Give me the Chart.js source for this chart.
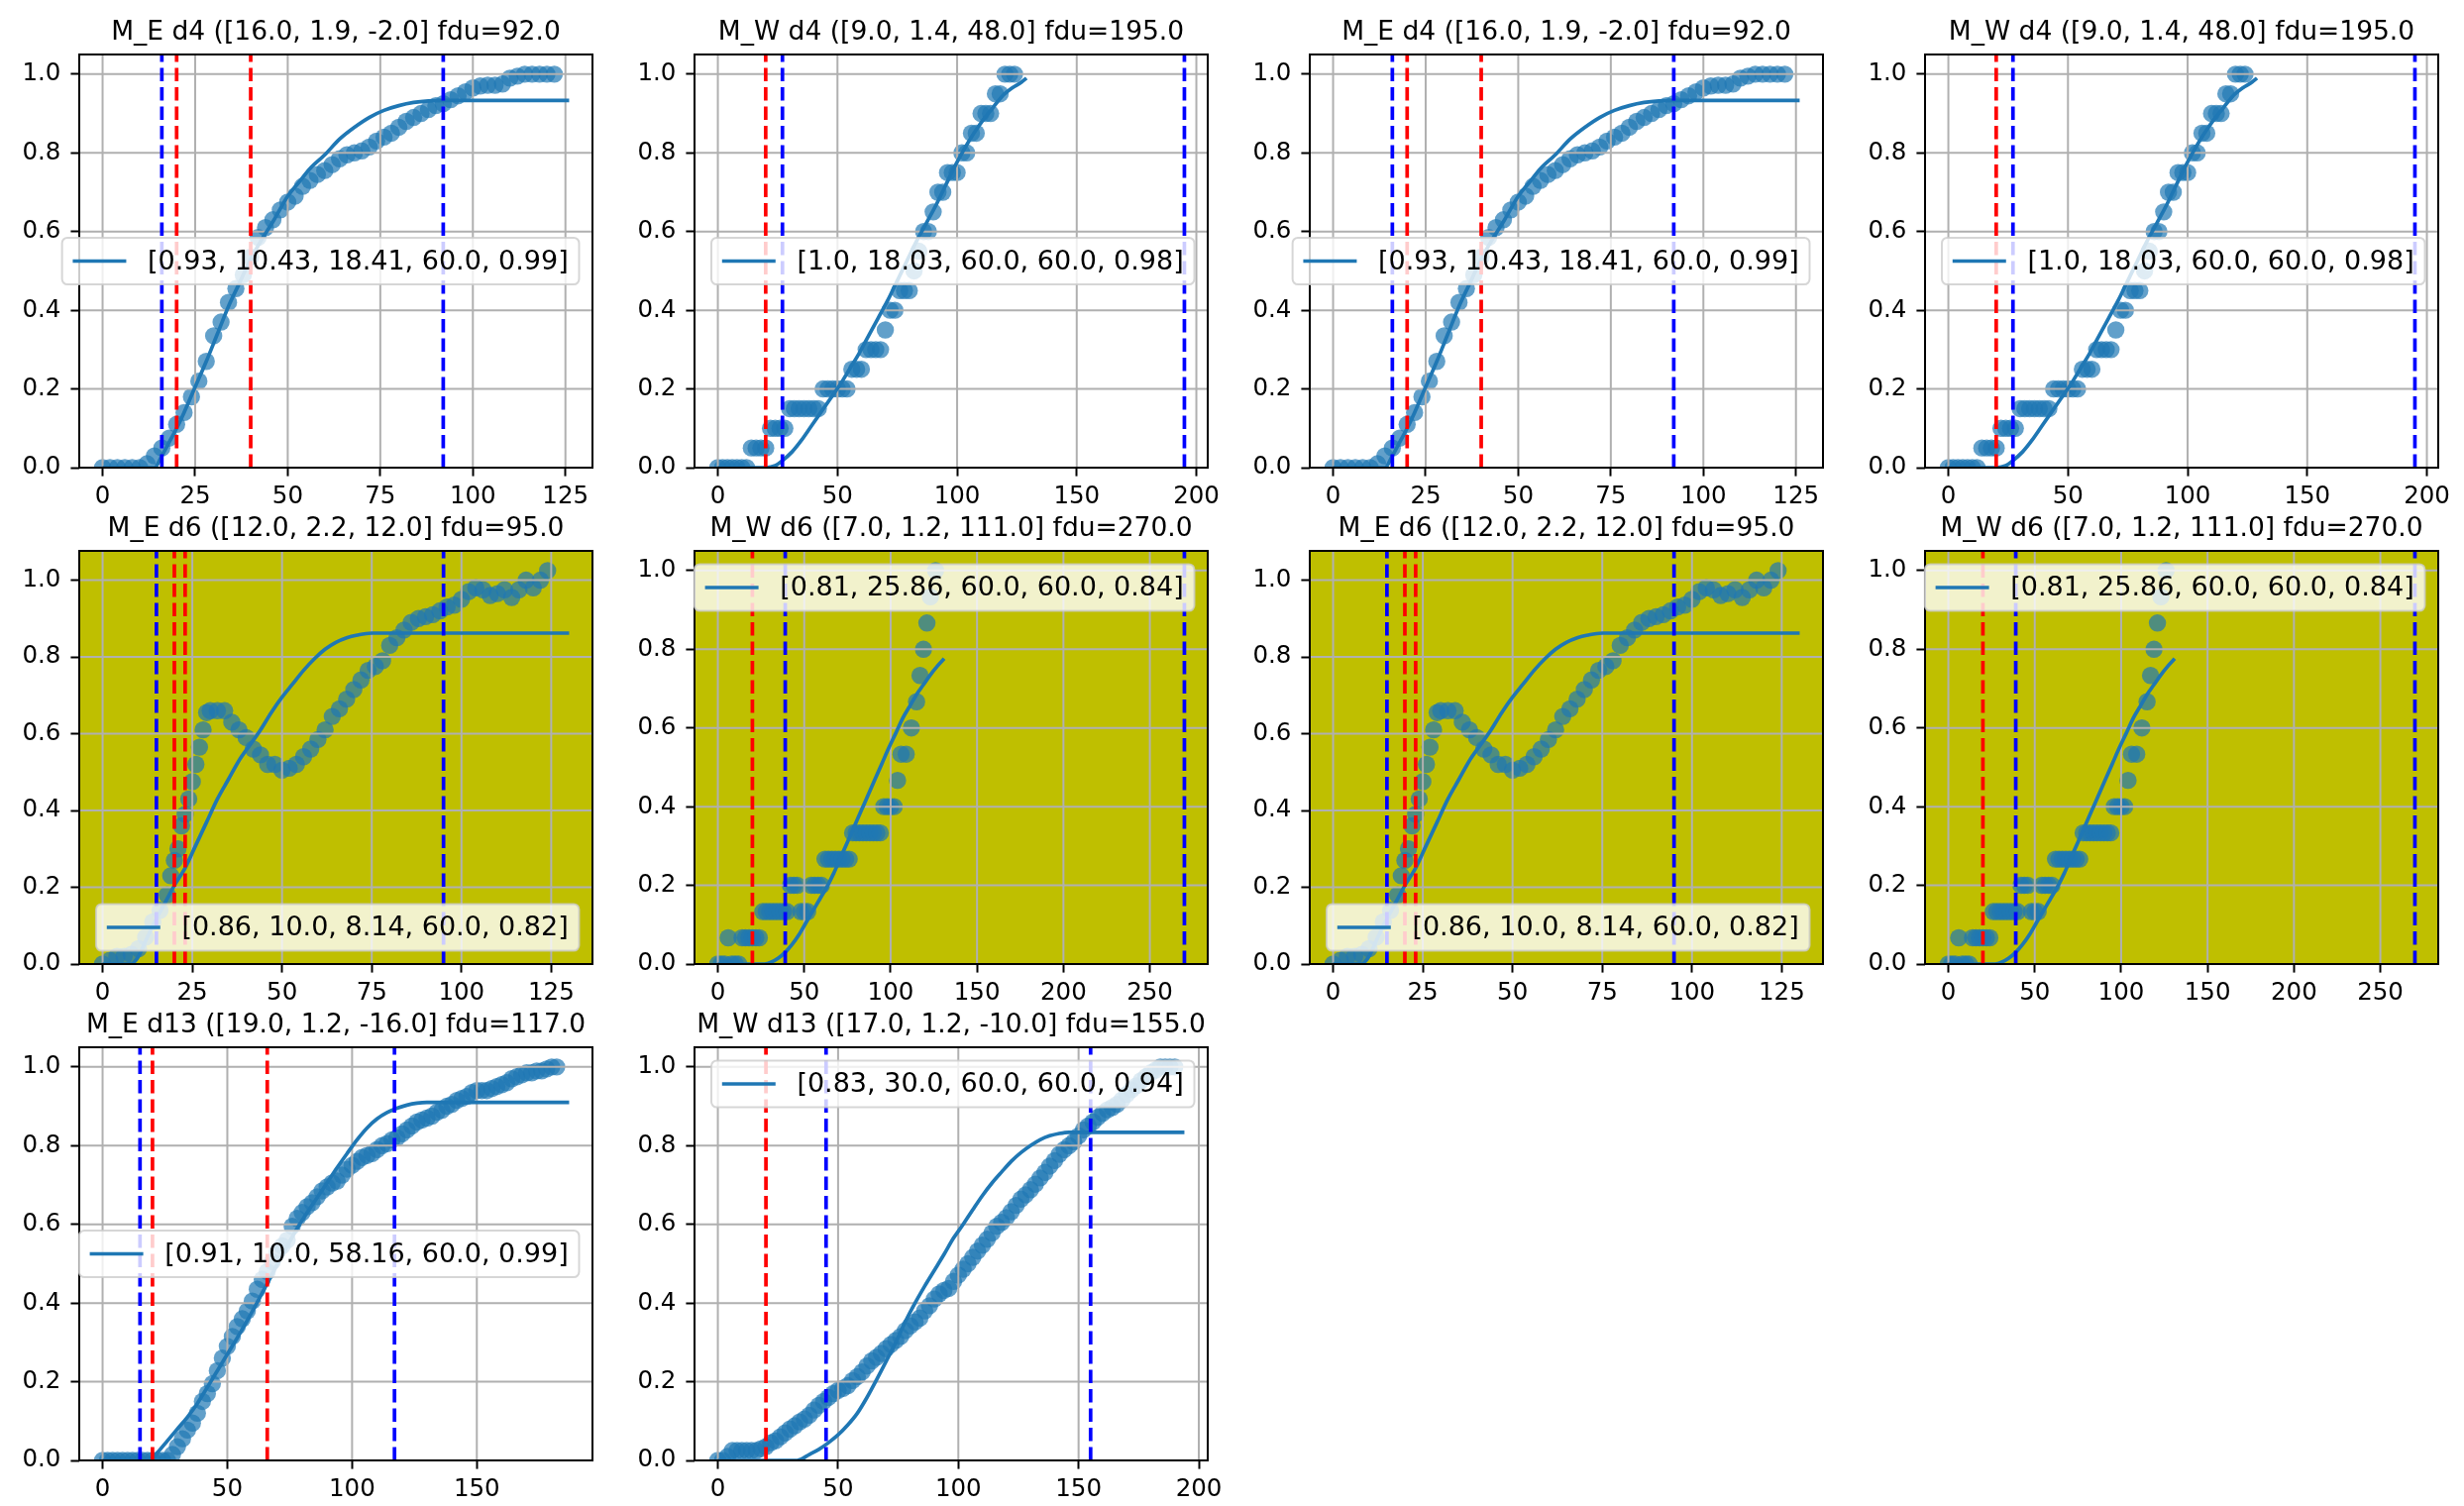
<!DOCTYPE html>
<html>
<head>
<meta charset="utf-8">
<title>fdu fits</title>
<script src="https://cdn.jsdelivr.net/npm/chart.js@4.4.0/dist/chart.umd.min.js"></script>
<style>
  html, body { margin: 0; padding: 0; background: #fff; }
  #fig { position: relative; width: 2487px; height: 1520px; overflow: hidden; }
  #fig canvas { position: absolute; }
</style>
</head>
<body>
<div id="fig"></div>
<script>
// ---- data: [day, cumulative fraction] ----
const meD4Dots = [[0,0],[2,0],[4,0],[6,0],[8,0],[10,0],[12,0.01],[14,0.03],[16,0.05],[18,0.075],[20,0.11],[22,0.14],[24,0.18],[26,0.22],[28,0.27],[30,0.335],[32,0.37],[34,0.42],[36,0.455],[38,0.49],[40,0.535],[42,0.585],[44,0.61],[46,0.63],[48,0.655],[50,0.675],[52,0.69],[54,0.715],[56,0.73],[58,0.745],[60,0.755],[62,0.77],[64,0.785],[66,0.795],[68,0.8],[70,0.805],[72,0.815],[74,0.83],[76,0.84],[78,0.85],[80,0.865],[82,0.88],[84,0.89],[86,0.9],[88,0.91],[90,0.92],[92,0.925],[94,0.935],[96,0.945],[98,0.955],[100,0.965],[102,0.97],[104,0.972],[106,0.972],[108,0.975],[110,0.99],[112,0.995],[114,1],[116,1],[118,1],[120,1],[122,1]];
const meD4Fit = [[0,0],[14,0],[16,0.03],[18,0.065],[20,0.1],[22,0.14],[25,0.205],[28,0.27],[31,0.34],[34,0.41],[37,0.47],[40,0.53],[43,0.58],[46,0.625],[50,0.69],[53,0.725],[56,0.76],[60,0.795],[64,0.835],[68,0.865],[72,0.89],[76,0.908],[80,0.92],[84,0.928],[88,0.932],[92,0.933],[126,0.933]];

const mwD4Dots = [[0,0],[2,0],[4,0],[6,0],[8,0],[10,0],[12,0],[14,0.05],[16,0.05],[18,0.05],[20,0.05],[22,0.1],[24,0.1],[26,0.1],[28,0.1],[30,0.15],[32,0.15],[34,0.15],[36,0.15],[38,0.15],[40,0.15],[42,0.15],[44,0.2],[46,0.2],[48,0.2],[50,0.2],[52,0.2],[54,0.2],[56,0.25],[58,0.25],[60,0.25],[62,0.3],[64,0.3],[66,0.3],[68,0.3],[70,0.35],[72,0.4],[74,0.4],[76,0.45],[78,0.45],[80,0.45],[82,0.5],[84,0.55],[86,0.6],[88,0.6],[90,0.65],[92,0.7],[94,0.7],[96,0.75],[98,0.75],[100,0.75],[102,0.8],[104,0.8],[106,0.85],[108,0.85],[110,0.9],[112,0.9],[114,0.9],[116,0.95],[118,0.95],[120,1],[122,1],[124,1]];
const mwD4Fit = [[0,0],[20,0],[24,0.005],[27,0.018],[31,0.04],[35,0.07],[39,0.105],[43,0.14],[47,0.175],[51,0.21],[55,0.25],[59,0.29],[63,0.335],[67,0.38],[71,0.425],[75,0.475],[79,0.525],[83,0.575],[87,0.62],[91,0.665],[95,0.715],[99,0.765],[103,0.81],[107,0.85],[111,0.885],[115,0.915],[119,0.945],[123,0.965],[127,0.98],[129,0.99]];

const meD6Dots = [[0,0],[2,0.01],[4,0.02],[6,0.02],[8,0.025],[10,0.04],[12,0.07],[14,0.11],[16,0.14],[18,0.18],[19,0.23],[20,0.27],[21,0.3],[22,0.36],[23,0.39],[24,0.43],[25,0.475],[26,0.52],[27,0.565],[28,0.61],[29,0.655],[30,0.66],[32,0.66],[34,0.66],[36,0.63],[38,0.61],[40,0.59],[42,0.56],[44,0.545],[46,0.52],[48,0.52],[50,0.505],[52,0.51],[54,0.52],[56,0.54],[58,0.56],[60,0.585],[62,0.61],[64,0.645],[66,0.665],[68,0.69],[70,0.715],[72,0.74],[74,0.765],[76,0.775],[78,0.79],[80,0.83],[82,0.85],[84,0.87],[86,0.89],[88,0.9],[90,0.905],[92,0.91],[94,0.92],[96,0.93],[98,0.935],[100,0.95],[102,0.97],[104,0.98],[106,0.975],[108,0.96],[110,0.965],[112,0.975],[114,0.955],[116,0.975],[118,1],[120,0.98],[122,1],[124,1.025]];
const meD6Fit = [[0,0],[8,0],[10,0.02],[12,0.06],[14,0.1],[16,0.135],[18,0.17],[20,0.205],[23,0.25],[26,0.31],[29,0.37],[32,0.43],[35,0.48],[38,0.53],[41,0.57],[44,0.61],[47,0.655],[50,0.695],[53,0.73],[56,0.765],[59,0.795],[62,0.82],[65,0.838],[68,0.85],[71,0.857],[75,0.862],[130,0.862]];

const mwD6Dots = [[0,0],[2,0],[4,0],[6,0.0667],[8,0],[10,0],[12,0],[14,0.0667],[16,0.0667],[18,0.0667],[20,0.0667],[22,0.0667],[24,0.0667],[26,0.1333],[28,0.1333],[30,0.1333],[32,0.1333],[34,0.1333],[36,0.1333],[38,0.1333],[40,0.1333],[42,0.2],[44,0.2],[46,0.2],[48,0.1333],[50,0.1333],[52,0.1333],[54,0.2],[56,0.2],[58,0.2],[60,0.2],[62,0.2667],[64,0.2667],[66,0.2667],[68,0.2667],[70,0.2667],[72,0.2667],[74,0.2667],[76,0.2667],[78,0.3333],[80,0.3333],[82,0.3333],[84,0.3333],[86,0.3333],[88,0.3333],[90,0.3333],[92,0.3333],[94,0.3333],[96,0.4],[98,0.4],[100,0.4],[102,0.4],[104,0.4667],[106,0.5333],[109,0.5333],[112,0.6],[115,0.6667],[117,0.7333],[119,0.8],[121,0.8667],[123,0.9333],[126,1]];
const mwD6Fit = [[0,0],[27,0],[31,0.005],[35,0.015],[39,0.03],[43,0.05],[47,0.075],[51,0.105],[55,0.135],[59,0.165],[63,0.195],[67,0.23],[71,0.27],[75,0.31],[79,0.35],[83,0.39],[87,0.43],[91,0.47],[95,0.51],[99,0.55],[103,0.587],[107,0.625],[111,0.655],[115,0.685],[119,0.71],[123,0.735],[127,0.757],[131,0.776]];

const meD13Dots = [[0,0],[2,0],[4,0],[6,0],[8,0],[10,0],[12,0],[14,0],[16,0],[18,0],[20,0],[22,0],[24,0],[26,0],[28,0.015],[30,0.035],[32,0.055],[34,0.077],[36,0.095],[38,0.12],[40,0.15],[42,0.17],[44,0.195],[46,0.228],[48,0.26],[50,0.29],[52,0.315],[54,0.34],[56,0.36],[58,0.38],[60,0.405],[62,0.435],[64,0.46],[66,0.48],[68,0.505],[70,0.53],[72,0.545],[74,0.56],[76,0.595],[78,0.615],[80,0.63],[82,0.645],[84,0.655],[86,0.67],[88,0.685],[90,0.695],[92,0.705],[94,0.71],[96,0.725],[98,0.74],[100,0.75],[102,0.76],[104,0.77],[106,0.775],[108,0.78],[110,0.79],[112,0.8],[114,0.805],[116,0.815],[118,0.82],[120,0.83],[122,0.84],[124,0.85],[126,0.86],[128,0.865],[130,0.87],[132,0.875],[134,0.885],[136,0.89],[138,0.9],[140,0.905],[142,0.915],[144,0.92],[146,0.925],[148,0.935],[150,0.94],[152,0.94],[154,0.94],[156,0.945],[158,0.95],[160,0.955],[162,0.96],[164,0.97],[166,0.975],[168,0.98],[170,0.985],[172,0.985],[174,0.99],[176,0.99],[178,0.995],[180,1],[182,1]];
const meD13Fit = [[0,0],[19,0],[22,0.02],[26,0.05],[30,0.08],[34,0.11],[38,0.145],[42,0.186],[46,0.228],[50,0.27],[54,0.312],[58,0.356],[62,0.402],[66,0.45],[70,0.498],[74,0.545],[78,0.59],[82,0.63],[86,0.668],[90,0.706],[94,0.744],[98,0.78],[102,0.815],[106,0.845],[110,0.868],[114,0.884],[118,0.895],[122,0.903],[126,0.908],[130,0.91],[187,0.91]];

const mwD13Dots = [[0,0],[2,0],[4,0.01],[6,0.025],[8,0.025],[10,0.025],[12,0.025],[14,0.025],[16,0.025],[18,0.03],[20,0.035],[22,0.045],[24,0.05],[26,0.06],[28,0.07],[30,0.08],[32,0.088],[34,0.098],[36,0.105],[38,0.115],[40,0.128],[42,0.14],[44,0.15],[46,0.16],[48,0.17],[50,0.178],[52,0.183],[54,0.19],[56,0.203],[58,0.213],[60,0.225],[62,0.24],[64,0.253],[66,0.262],[68,0.272],[70,0.284],[72,0.295],[74,0.305],[76,0.315],[78,0.33],[80,0.342],[82,0.352],[84,0.362],[86,0.38],[88,0.393],[90,0.41],[92,0.423],[94,0.432],[96,0.437],[98,0.455],[100,0.471],[102,0.486],[104,0.5],[106,0.516],[108,0.532],[110,0.547],[112,0.562],[114,0.578],[116,0.595],[118,0.605],[120,0.617],[122,0.632],[124,0.648],[126,0.664],[128,0.675],[130,0.688],[132,0.702],[134,0.718],[136,0.732],[138,0.748],[140,0.762],[142,0.778],[144,0.79],[146,0.8],[148,0.81],[150,0.825],[152,0.84],[154,0.85],[156,0.86],[158,0.872],[160,0.882],[162,0.891],[164,0.897],[166,0.905],[168,0.916],[170,0.93],[172,0.942],[174,0.952],[176,0.965],[178,0.975],[180,0.985],[182,0.992],[184,1],[186,1],[188,1],[190,1]];
const mwD13Fit = [[0,0],[33,0],[38,0.015],[42,0.028],[46,0.045],[50,0.065],[54,0.09],[58,0.12],[62,0.16],[66,0.205],[70,0.252],[74,0.3],[78,0.353],[82,0.4],[86,0.443],[90,0.483],[94,0.523],[98,0.565],[102,0.6],[106,0.637],[110,0.673],[114,0.705],[118,0.733],[122,0.76],[126,0.782],[130,0.8],[134,0.815],[138,0.825],[142,0.831],[146,0.834],[150,0.834],[194,0.834]];

const yTicks = [0, 0.2, 0.4, 0.6, 0.8, 1.0];
const ticks25 = [0, 25, 50, 75, 100, 125];
const ticks50to150 = [0, 50, 100, 150];
const ticks50to200 = [0, 50, 100, 150, 200];
const ticks50to250 = [0, 50, 100, 150, 200, 250];

// panels, by name
const panels = {
  meD4:  { title: "M_E d4 ([16.0, 1.9, -2.0] fdu=92.0",     legend: "[0.93, 10.43, 18.41, 60.0, 0.99]", loc: "center right",
           dots: meD4Dots,  fit: meD4Fit,  red: [20, 40], blue: [16, 92],   xTicks: ticks25,      bg: null },
  mwD4:  { title: "M_W d4 ([9.0, 1.4, 48.0] fdu=195.0",     legend: "[1.0, 18.03, 60.0, 60.0, 0.98]",   loc: "center right",
           dots: mwD4Dots,  fit: mwD4Fit,  red: [20],     blue: [27, 195],  xTicks: ticks50to200, bg: null },
  meD6:  { title: "M_E d6 ([12.0, 2.2, 12.0] fdu=95.0",     legend: "[0.86, 10.0, 8.14, 60.0, 0.82]",   loc: "lower right",
           dots: meD6Dots,  fit: meD6Fit,  red: [20, 23], blue: [15, 95],   xTicks: ticks25,      bg: "#bfbf00" },
  mwD6:  { title: "M_W d6 ([7.0, 1.2, 111.0] fdu=270.0",    legend: "[0.81, 25.86, 60.0, 60.0, 0.84]",  loc: "upper right",
           dots: mwD6Dots,  fit: mwD6Fit,  red: [20],     blue: [39, 270],  xTicks: ticks50to250, bg: "#bfbf00" },
  meD13: { title: "M_E d13 ([19.0, 1.2, -16.0] fdu=117.0",  legend: "[0.91, 10.0, 58.16, 60.0, 0.99]",  loc: "center right",
           dots: meD13Dots, fit: meD13Fit, red: [20, 66], blue: [15, 117],  xTicks: ticks50to150, bg: null },
  mwD13: { title: "M_W d13 ([17.0, 1.2, -10.0] fdu=155.0",  legend: "[0.83, 30.0, 60.0, 60.0, 0.94]",   loc: "upper right",
           dots: mwD13Dots, fit: mwD13Fit, red: [20],     blue: [45, 155],  xTicks: ticks50to200, bg: null }
};

// grid of subplots (row by row, 4 columns)
const layoutRows = [
  ["meD4", "mwD4", "meD4", "mwD4"],
  ["meD6", "mwD6", "meD6", "mwD6"],
  ["meD13", "mwD13"]
];

const COL_LEFT = [80, 701, 1322, 1943];
const ROW_TOP = [55, 556, 1057];
const AX_W = 518, AX_H = 417;
const PAD_L = 80, PAD_T = 55, CV_W = 640, CV_H = 530;

const FONT = "'DejaVu Sans'";
Chart.defaults.font.family = FONT;
Chart.defaults.color = "#000";

const BLUE = "#1f77b4";
const DOT_ORDER = 3;

function panelPlugin(p) {
  return {
    id: "mplLook",
    beforeDraw(chart) {
      if (!p.bg) return;
      const a = chart.chartArea, ctx = chart.ctx;
      ctx.save();
      ctx.fillStyle = p.bg;
      ctx.fillRect(a.left, a.top, a.right - a.left, a.bottom - a.top);
      ctx.restore();
    },
    afterDatasetDraw(chart, args) {
      // grid sits above the scatter but under the lines
      if (chart.data.datasets[args.index].order !== DOT_ORDER) return;
      const a = chart.chartArea, ctx = chart.ctx;
      const xs = chart.scales.x, ys = chart.scales.y;
      ctx.save();
      ctx.strokeStyle = "#b0b0b0";
      ctx.lineWidth = 2;
      ctx.beginPath();
      xs.ticks.forEach(t => {
        const px = xs.getPixelForValue(t.value);
        ctx.moveTo(px, a.top); ctx.lineTo(px, a.bottom);
      });
      ys.ticks.forEach(t => {
        const py = ys.getPixelForValue(t.value);
        ctx.moveTo(a.left, py); ctx.lineTo(a.right, py);
      });
      ctx.stroke();
      ctx.restore();
    },
    afterDatasetsDraw(chart) {
      const a = chart.chartArea, ctx = chart.ctx;
      ctx.save();
      ctx.strokeStyle = "#000";
      ctx.lineWidth = 2;
      ctx.strokeRect(a.left, a.top, a.right - a.left, a.bottom - a.top);
      ctx.restore();
    },
    afterDraw(chart) {
      const a = chart.chartArea, ctx = chart.ctx;
      ctx.save();
      // title
      ctx.fillStyle = "#000";
      ctx.font = "26.5px " + FONT;
      ctx.textAlign = "center";
      ctx.textBaseline = "alphabetic";
      ctx.fillText(p.title, (a.left + a.right) / 2, a.top - 15.5);

      // legend box
      const f = 27;
      ctx.font = f + "px " + FONT;
      const tw = ctx.measureText(p.legend).width;
      const w = 0.4 * f * 2 + 2 * f + 0.8 * f + tw;
      const h = 47;
      const x0 = a.right - 0.5 * f - w;
      let y0;
      if (p.loc === "upper right") y0 = a.top + 0.5 * f;
      else if (p.loc === "lower right") y0 = a.bottom - 0.5 * f - h;
      else y0 = (a.top + a.bottom) / 2 - h / 2;
      ctx.beginPath();
      ctx.roundRect(x0, y0, w, h, 0.2 * f);
      ctx.fillStyle = "rgba(255,255,255,0.8)";
      ctx.fill();
      ctx.strokeStyle = "rgba(204,204,204,0.8)";
      ctx.lineWidth = 2;
      ctx.stroke();
      const cy = y0 + h / 2;
      ctx.beginPath();
      ctx.moveTo(x0 + 0.4 * f, cy);
      ctx.lineTo(x0 + 0.4 * f + 2 * f, cy);
      ctx.strokeStyle = BLUE;
      ctx.lineWidth = 3.7;
      ctx.stroke();
      ctx.fillStyle = "#000";
      ctx.textAlign = "left";
      ctx.textBaseline = "middle";
      ctx.fillText(p.legend, x0 + 0.4 * f + 2 * f + 0.8 * f, cy + 1);
      ctx.restore();
    }
  };
}

function makePanel(name, row, col) {
  const p = panels[name];
  const cv = document.createElement("canvas");
  cv.width = CV_W; cv.height = CV_H;
  cv.style.left = (COL_LEFT[col] - PAD_L) + "px";
  cv.style.top = (ROW_TOP[row] - PAD_T) + "px";
  cv.style.width = CV_W + "px"; cv.style.height = CV_H + "px";
  document.getElementById("fig").appendChild(cv);

  // matplotlib-like autoscale: 5% margins, y starts at 0
  const allX = p.dots.map(d => d[0]).concat(p.fit.map(d => d[0]), p.red, p.blue);
  const allY = p.dots.map(d => d[1]).concat(p.fit.map(d => d[1]));
  const xLo = Math.min(...allX), xHi = Math.max(...allX);
  const xSpan = xHi - xLo;
  const yMax = Math.max(...allY) * 1.05;

  const vline = (x, color) => ({
    data: [{ x: x, y: 0 }, { x: x, y: yMax }],
    showLine: true, borderColor: color, borderWidth: 3.7, borderDash: [13.6, 5.9],
    pointRadius: 0, pointHoverRadius: 0, order: 1, clip: 0
  });

  const datasets = [
    ...p.red.map(x => vline(x, "#ff0000")),
    ...p.blue.map(x => vline(x, "#0000ff")),
    {
      data: p.fit.map(d => ({ x: d[0], y: d[1] })),
      showLine: true, borderColor: BLUE, borderWidth: 3.7, cubicInterpolationMode: "monotone",
      pointRadius: 0, pointHoverRadius: 0, order: 2, clip: 0
    },
    {
      data: p.dots.map(d => ({ x: d[0], y: d[1] })),
      showLine: false, pointRadius: 8.7, pointBorderWidth: 0,
      pointBackgroundColor: "rgba(31,119,180,0.7)", pointBorderColor: "rgba(0,0,0,0)",
      order: DOT_ORDER, clip: 0
    }
  ];

  const tickFont = { family: FONT, size: 24.5, lineHeight: 1.2 };
  new Chart(cv, {
    type: "scatter",
    data: { datasets },
    options: {
      responsive: false,
      animation: false,
      devicePixelRatio: 1,
      events: [],
      layout: { padding: { left: 0, top: PAD_T, right: CV_W - PAD_L - AX_W, bottom: 0 } },
      plugins: { legend: { display: false }, tooltip: { enabled: false }, title: { display: false } },
      scales: {
        x: {
          type: "linear",
          min: xLo - 0.05 * xSpan,
          max: xHi + 0.05 * xSpan,
          afterBuildTicks: s => { s.ticks = p.xTicks.map(v => ({ value: v })); },
          afterFit: s => { s.height = CV_H - PAD_T - AX_H; s.paddingLeft = 0; s.paddingRight = 0; },
          ticks: { font: tickFont, color: "#000", padding: 6, maxRotation: 0, autoSkip: false,
                   callback: v => String(v) },
          grid: { drawOnChartArea: false, drawTicks: true, tickLength: 8.6, tickColor: "#000", tickWidth: 2 },
          border: { display: false }
        },
        y: {
          type: "linear",
          min: 0,
          max: yMax,
          afterBuildTicks: s => { s.ticks = yTicks.map(v => ({ value: v })); },
          afterFit: s => { s.width = PAD_L; s.paddingTop = 0; s.paddingBottom = 0; },
          ticks: { font: tickFont, color: "#000", padding: 10, callback: v => v.toFixed(1) },
          grid: { drawOnChartArea: false, drawTicks: true, tickLength: 8.6, tickColor: "#000", tickWidth: 2 },
          border: { display: false }
        }
      }
    },
    plugins: [panelPlugin(p)]
  });
}

layoutRows.forEach((names, row) => names.forEach((name, col) => makePanel(name, row, col)));
</script>
</body>
</html>
